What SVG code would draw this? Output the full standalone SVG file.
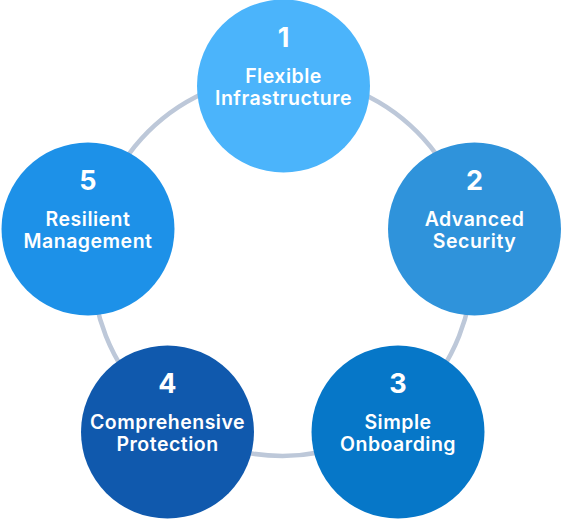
<svg xmlns="http://www.w3.org/2000/svg" width="562" height="520" viewBox="0 0 562 520">
<style>
.num{font-family:Inter,"Open Sans","Noto Sans",sans-serif;font-weight:700;font-size:27px;fill:#fff;text-anchor:middle}
.lbl{font-family:Inter,"Open Sans","Noto Sans",sans-serif;font-weight:600;font-size:19.5px;letter-spacing:0.5px;fill:#fff;text-anchor:middle}
.ring{fill:none;stroke:#BDC8D9;stroke-width:4.5}
</style>
<rect width="562" height="520" fill="#fff"/>
<g id="connectors">
<circle class="ring" cx="282.5" cy="266" r="190"/>
</g>
<g id="node1">
<circle cx="283.5" cy="86" r="86.5" fill="#4BB4FB"/>
<text class="num" x="283.5" y="47">1</text>
<text class="lbl" x="283.5" y="82.5">Flexible</text>
<text class="lbl" x="283.5" y="104.5">Infrastructure</text>
</g>
<g id="node2">
<circle cx="474.5" cy="229" r="86.5" fill="#2F93DB"/>
<text class="num" x="474.5" y="190">2</text>
<text class="lbl" x="474.5" y="225.5">Advanced</text>
<text class="lbl" x="474.5" y="247.5">Security</text>
</g>
<g id="node3">
<circle cx="398" cy="432" r="86.5" fill="#0677C8"/>
<text class="num" x="398" y="393">3</text>
<text class="lbl" x="398" y="428.5">Simple</text>
<text class="lbl" x="398" y="450.5">Onboarding</text>
</g>
<g id="node4">
<circle cx="167.5" cy="432" r="86.5" fill="#1059AD"/>
<text class="num" x="167.5" y="393">4</text>
<text class="lbl" x="167.5" y="428.5">Comprehensive</text>
<text class="lbl" x="167.5" y="450.5">Protection</text>
</g>
<g id="node5">
<circle cx="88" cy="229" r="86.5" fill="#1D91E8"/>
<text class="num" x="88" y="190">5</text>
<text class="lbl" x="88" y="225.5">Resilient</text>
<text class="lbl" x="88" y="247.5">Management</text>
</g>
</svg>
